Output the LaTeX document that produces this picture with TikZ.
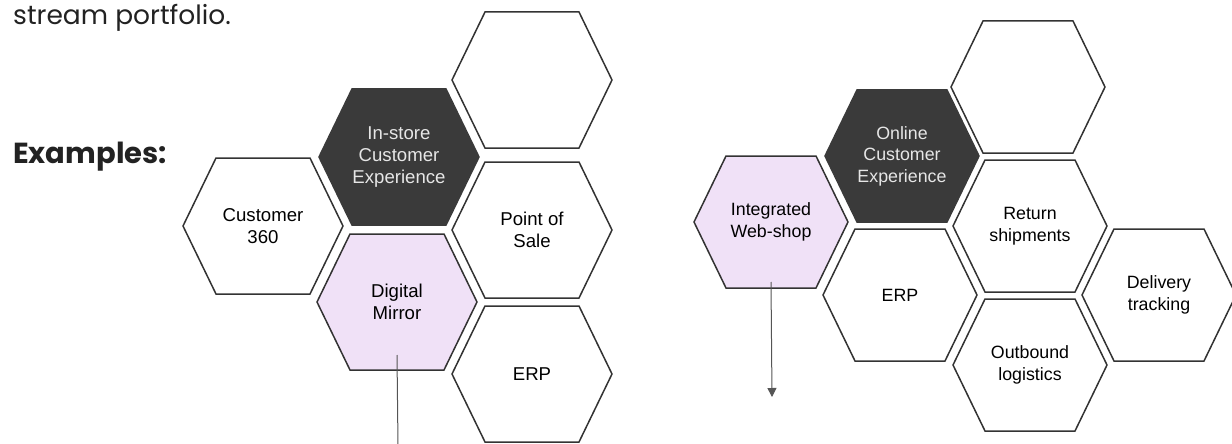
\documentclass[tikz,border=0pt]{standalone}
\usepackage{fontspec}
\usepackage{xcolor}
\usepackage{tikz}
\usetikzlibrary{positioning,calc,arrows.meta}

\newfontfamily\headfont{Poppins}
\newfontfamily\cellfont{Liberation Sans}

\definecolor{cellDark}{HTML}{3A3A3A}
\definecolor{cellLilac}{HTML}{F0E1F7}
\definecolor{cellEdge}{HTML}{333333}
\definecolor{cellText}{HTML}{E6E6E6}
\definecolor{linkGray}{HTML}{555555}
\definecolor{headInk}{HTML}{222222}

% one honeycomb cell: name, x, y, look, text
\newcommand{\hexcell}[5]{%
  \filldraw[hexline,#4] (#2-\hexw,#3) -- (#2-\hexs,#3-\hexh) -- (#2+\hexs,#3-\hexh)
    -- (#2+\hexw,#3) -- (#2+\hexs,#3+\hexh) -- (#2-\hexs,#3+\hexh) -- cycle;
  \node[hexlabel,#4,fill=none] (#1) at (#2,#3) {#5};
}

\begin{document}
\begin{tikzpicture}[x=1pt,y=-1pt,
    hexline/.style={draw=cellEdge, line width=1.5pt, line join=miter},
    hexlabel/.style={align=center, inner sep=0pt, text=black},
    darkcell/.style={fill=cellDark, draw=cellDark, text=cellText},
    lilaccell/.style={fill=cellLilac},
    plaincell/.style={fill=white},
    link/.style={draw=linkGray, line width=1pt}]
    \useasboundingbox (0,0) rectangle (1232,444);

    \node[anchor=base west, inner sep=0pt, text=headInk, font=\headfont\fontsize{26.5}{30}\selectfont] (intro) at (13,25) {stream portfolio.};
    \node[anchor=base west, inner sep=0pt, text=headInk, font=\headfont\bfseries\fontsize{29}{32}\selectfont] (examples) at (13,163) {Examples:};

    % in-store example
    \begin{scope}[hexlabel/.append style={font=\cellfont\fontsize{18.6}{22}\selectfont}]
        \def\hexw{80}\def\hexh{68}\def\hexs{47}
        \hexcell{storeTop}{532}{80}{plaincell}{}
        \hexcell{store}{399}{157}{darkcell}{In-store\\Customer\\Experience}
        \hexcell{cust}{263}{226}{plaincell}{Customer\\360}
        \hexcell{pos}{532}{230}{plaincell}{Point of\\Sale}
        \hexcell{mirror}{397}{302}{lilaccell}{Digital\\Mirror}
        \hexcell{erpA}{532}{374}{plaincell}{ERP}
    \end{scope}
    \coordinate (mirrorTail) at (397,355);
    \coordinate (mirrorEnd) at (398,446);
    \draw[link] (mirrorTail) -- (mirrorEnd);

    % online example
    \begin{scope}[hexlabel/.append style={font=\cellfont\fontsize{17.8}{21.5}\selectfont}]
        \def\hexw{77}\def\hexh{66}\def\hexs{45}
        \hexcell{webTop}{1028}{87}{plaincell}{}
        \hexcell{online}{902}{156}{darkcell}{Online\\Customer\\Experience}
        \hexcell{shop}{771}{222}{lilaccell}{Integrated\\Web-shop}
        \hexcell{ret}{1030}{226}{plaincell}{Return\\shipments}
        \hexcell{erpB}{900}{295}{plaincell}{ERP}
        \hexcell{track}{1159}{295}{plaincell}{Delivery\\tracking}
        \hexcell{outb}{1030}{365}{plaincell}{Outbound\\logistics}
    \end{scope}
    \coordinate (shopTail) at (771,282);
    \coordinate (shopHead) at (772,397);
    \draw[link, -{Triangle[width=9pt,length=9pt]}] (shopTail) -- (shopHead);
\end{tikzpicture}
\end{document}
